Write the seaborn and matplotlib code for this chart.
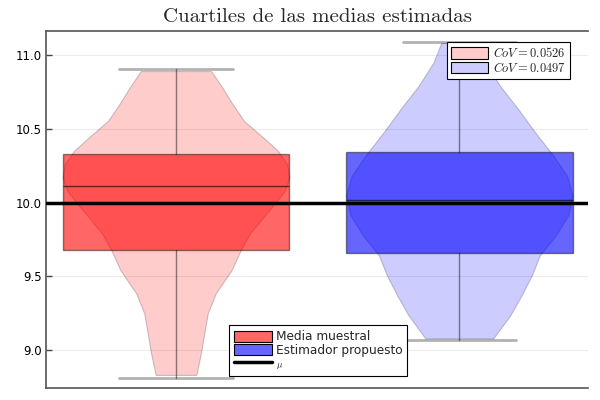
import matplotlib
matplotlib.use("Agg")
import matplotlib.pyplot as plt
from matplotlib.patches import Patch
from matplotlib.lines import Line2D
import seaborn as sns
import numpy as np

# datos
categorias = ["Media muestral", "Estimador propuesto"]
cov = [0.0526, 0.0497]
mu = 10.0
minimos = [8.81, 9.07]
q1 = [9.68, 9.66]
medianas = [10.115, 10.017]
q3 = [10.33, 10.342]
maximos = [10.905, 11.088]

# perfil de densidad (relativo) de cada violin
y_media = [8.831, 8.978, 9.113, 9.248, 9.383, 9.541, 9.676, 9.788, 9.901, 9.991,
           10.081, 10.171, 10.261, 10.351, 10.441, 10.554, 10.667, 10.779, 10.892]
d_media = [0.18, 0.22, 0.25, 0.28, 0.35, 0.49, 0.57, 0.65, 0.77, 0.87,
           0.96, 1.0, 0.98, 0.90, 0.77, 0.60, 0.50, 0.41, 0.31]
y_prop = [9.079, 9.236, 9.372, 9.507, 9.642, 9.777, 9.912, 10.047, 10.182, 10.318,
          10.475, 10.633, 10.791, 10.948, 11.083]
d_prop = [0.30, 0.45, 0.55, 0.64, 0.71, 0.85, 0.96, 1.0, 0.95, 0.83,
          0.67, 0.52, 0.36, 0.23, 0.16]

colores = [(1, 0, 0), (0, 0, 1)]

sns.set_theme(style="white")
plt.rcParams['mathtext.fontset'] = 'cm'
plt.rcParams['font.family'] = ['DejaVu Sans']

fig = plt.figure(figsize=(6, 4), dpi=100)
ax = fig.add_axes([0.077, 0.031, 0.903, 0.892])

# violines
vp = []
for i in range(2):
    vp.append({'coords': np.array(y_prop if i else y_media),
               'vals': np.array(d_prop if i else d_media),
               'mean': medianas[i], 'median': medianas[i],
               'min': minimos[i], 'max': maximos[i]})
viol = ax.violin(vp, positions=[0, 1], widths=0.8, showextrema=False)
for body, c in zip(viol['bodies'], colores):
    body.set_alpha(None)
    body.set_facecolor(c + (0.2,))
    body.set_edgecolor((0, 0, 0, 0.2))
    body.set_linewidth(0.8)
    body.set_zorder(1)

# cajas
stats = []
for i in range(2):
    stats.append({'med': medianas[i], 'q1': q1[i], 'q3': q3[i],
                  'whislo': minimos[i], 'whishi': maximos[i], 'fliers': []})
bp = ax.bxp(stats, positions=[0, 1], widths=0.8, patch_artist=True, showfliers=False,
            boxprops=dict(edgecolor=(0, 0, 0, 0.45), linewidth=1),
            medianprops=dict(color=(0, 0, 0, 0.6), linewidth=1),
            whiskerprops=dict(color=(0, 0, 0, 0.45), linewidth=1),
            capprops=dict(color=(0, 0, 0, 0.3), linewidth=2))
for box, c in zip(bp['boxes'], colores):
    box.set_facecolor(c + (0.6,))
    box.set_zorder(2)

ax.axhline(mu, color='black', linewidth=2.5, zorder=5)

ax.set_xlim(-0.458, 1.454)
ax.set_ylim(8.745, 11.165)
ax.set_xticks([])
ax.set_yticks([9.0, 9.5, 10.0, 10.5, 11.0])
ax.set_yticklabels(["9.0", "9.5", "10.0", "10.5", "11.0"])
ax.tick_params(axis='y', direction='in', length=4, width=1, color='#444444',
               labelsize=8.5, labelcolor='black', pad=3, left=True)
ax.grid(axis='y', color='black', alpha=0.08, linewidth=0.8)
ax.set_axisbelow(True)
sns.despine(ax=ax, top=False, right=True)
for s in ['left', 'bottom', 'top']:
    ax.spines[s].set_color('#555555')
    ax.spines[s].set_linewidth(1.2)

ax.set_title("Cuartiles de las medias estimadas", family='cmr10', fontsize=15, pad=6)

# leyendas
h1 = [Patch(facecolor=c + (0.2,), edgecolor='black', linewidth=0.8) for c in colores]
l1 = [r"$CoV = %s$" % v for v in cov]
leg1 = ax.legend(h1, l1, loc='upper right', bbox_to_anchor=(0.967, 0.969), fontsize=9,
                 fancybox=False, framealpha=1, edgecolor='black', handlelength=3.0,
                 handleheight=1.0, borderpad=0.35, labelspacing=0.05, handletextpad=0.35,
                 borderaxespad=0)
leg1.get_frame().set_linewidth(0.8)
ax.add_artist(leg1)

h2 = [Patch(facecolor=c + (0.6,), edgecolor='black', linewidth=0.8) for c in colores]
h2.append(Line2D([0], [0], color='black', linewidth=2.5))
l2 = categorias + [r"$\mu$"]
leg2 = ax.legend(h2, l2, loc='lower left', bbox_to_anchor=(0.338, 0.033), fontsize=8.7,
                 fancybox=False, framealpha=1, edgecolor='black', handlelength=3.1,
                 handleheight=1.0, borderpad=0.4, labelspacing=0.05, handletextpad=0.35,
                 borderaxespad=0)
leg2.get_frame().set_linewidth(0.8)
leg2.get_texts()[2].set_fontsize(6.5)

fig.savefig("out.png", dpi=100)
